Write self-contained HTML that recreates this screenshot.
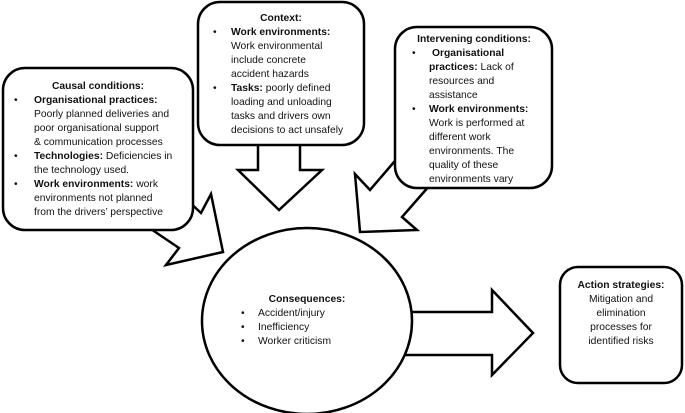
<!DOCTYPE html>
<html><head><meta charset="utf-8"><style>
html,body{margin:0;padding:0;background:#fff;}
svg{display:block;}
text{font-family:"Liberation Sans",sans-serif;font-size:10.3px;fill:#111;}
.b{font-weight:bold;}
</style></head><body>
<svg width="685" height="413" viewBox="0 0 685 413" xmlns="http://www.w3.org/2000/svg">
<g fill="#fff" stroke="#000" stroke-width="2.5" stroke-linejoin="miter">
<polygon points="185,198 201,213 211,194 223,252 166,265 179,248 145,225"/>
<polygon points="258,140 258,170 238,170 279,210 322,170 300,170 300,140"/>
<polygon points="400,155 370,190 355,174 360,232 417,230 402,217 430,185"/>
<polygon points="400,312 492,312 492,290 533,333 492,375 492,355 400,355"/>
<ellipse cx="307" cy="321" rx="105" ry="93"/>
<rect x="3" y="68" width="190" height="162" rx="22"/>
<rect x="198" y="2" width="166" height="143" rx="22"/>
<rect x="395" y="27" width="157" height="161" rx="22"/>
<rect x="560" y="267" width="122" height="116" rx="18"/>
</g>
<text x="98" y="89" text-anchor="middle" class="b">Causal conditions:</text>
<text x="14" y="103">•</text><text x="34" y="103" class="b">Organisational practices:</text>
<text x="34" y="117">Poorly planned deliveries and</text>
<text x="34" y="131">poor organisational support</text>
<text x="34" y="145">&amp; communication processes</text>
<text x="14" y="159">•</text><text x="34" y="159"><tspan class="b">Technologies:</tspan> Deficiencies in</text>
<text x="34" y="173">the technology used.</text>
<text x="14" y="187">•</text><text x="34" y="187"><tspan class="b">Work environments:</tspan> work</text>
<text x="34" y="201">environments not planned</text>
<text x="34" y="215">from the drivers’ perspective</text>
<text x="281" y="21" text-anchor="middle" class="b">Context:</text>
<text x="213" y="35">•</text><text x="231" y="35" class="b">Work environments:</text>
<text x="231" y="49">Work environmental</text>
<text x="231" y="63">include concrete</text>
<text x="231" y="77">accident hazards</text>
<text x="213" y="91">•</text><text x="231" y="91"><tspan class="b">Tasks:</tspan> poorly defined</text>
<text x="231" y="105">loading and unloading</text>
<text x="231" y="119">tasks and drivers own</text>
<text x="231" y="133">decisions to act unsafely</text>
<text x="474" y="42" text-anchor="middle" class="b">Intervening conditions:</text>
<text x="412" y="56">•</text><text x="432" y="56" class="b">Organisational</text>
<text x="429" y="70"><tspan class="b">practices:</tspan> Lack of</text>
<text x="429" y="84">resources and</text>
<text x="429" y="98">assistance</text>
<text x="412" y="112">•</text><text x="429" y="112" class="b">Work environments:</text>
<text x="429" y="126">Work is performed at</text>
<text x="429" y="140">different work</text>
<text x="429" y="154">environments. The</text>
<text x="429" y="168">quality of these</text>
<text x="429" y="182">environments vary</text>
<text x="307" y="302" text-anchor="middle" class="b">Consequences:</text>
<text x="241" y="316">•</text><text x="258" y="316">Accident/injury</text>
<text x="241" y="330">•</text><text x="258" y="330">Inefficiency</text>
<text x="241" y="344">•</text><text x="258" y="344">Worker criticism</text>
<text x="621" y="288" text-anchor="middle" class="b">Action strategies:</text>
<text x="621" y="302" text-anchor="middle">Mitigation and</text>
<text x="621" y="316" text-anchor="middle">elimination</text>
<text x="621" y="330" text-anchor="middle">processes for</text>
<text x="621" y="344" text-anchor="middle">identified risks</text>
</svg>
</body></html>
